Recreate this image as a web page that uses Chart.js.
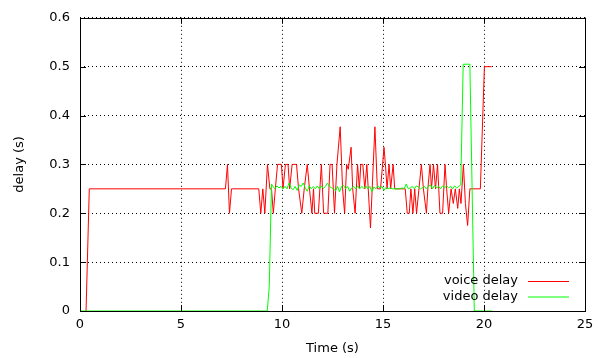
<!DOCTYPE html>
<html>
<head>
<meta charset="utf-8">
<script src="https://cdn.jsdelivr.net/npm/chart.js@4"></script>
<style>
  html, body { margin: 0; padding: 0; background: #fff; }
  #wrap { width: 607px; height: 358px; }
</style>
</head>
<body>
<div id="wrap"><canvas id="graf"></canvas></div>
<script>
// voice delay (red)
const voiceTime = [0.3, 0.46, 7.2, 7.3, 7.4, 7.5, 8.85, 8.95, 9.05, 9.15, 9.28, 9.4, 9.48, 9.57, 9.67, 9.78, 9.97,
  10.05, 10.17, 10.3, 10.38, 10.5, 10.72, 10.82, 10.98, 11.1, 11.25, 11.36, 11.48, 11.56, 11.62, 11.8, 11.95,
  12.06, 12.27, 12.38, 12.48, 12.6, 12.72, 12.88, 13.0, 13.1, 13.2, 13.28, 13.42, 13.5, 13.62, 13.74, 13.83,
  13.9, 14.0, 14.1, 14.2, 14.38, 14.6, 14.72, 14.88, 15.05, 15.12, 15.2, 15.3, 15.38, 15.5, 15.58, 16.1, 16.2,
  16.3, 16.38, 16.48, 16.57, 16.66, 16.78, 16.9, 17.0, 17.15, 17.22, 17.33, 17.4, 17.5, 17.6, 17.7, 17.82,
  17.95, 18.07, 18.15, 18.25, 18.37, 18.48, 18.58, 18.7, 18.78, 18.86, 18.98, 19.08, 19.19, 19.3, 19.82,
  20.02, 20.38];
const voiceDelay = [0, 0.25, 0.25, 0.3, 0.2, 0.25, 0.25, 0.2, 0.25, 0.2, 0.3, 0.25, 0.25, 0.2, 0.25, 0.3, 0.3,
  0.25, 0.3, 0.3, 0.25, 0.3, 0.3, 0.25, 0.2, 0.25, 0.3, 0.25, 0.2, 0.25, 0.2, 0.2, 0.3,
  0.2, 0.2, 0.3, 0.3, 0.2, 0.3, 0.377, 0.25, 0.2, 0.3, 0.29, 0.335, 0.25, 0.2, 0.3, 0.25,
  0.3, 0.3, 0.25, 0.3, 0.17, 0.377, 0.25, 0.25, 0.335, 0.3, 0.25, 0.3, 0.25, 0.3, 0.25, 0.25, 0.2,
  0.2, 0.25, 0.2, 0.25, 0.2, 0.25, 0.3, 0.25, 0.2, 0.25, 0.3, 0.25, 0.3, 0.25, 0.3, 0.2,
  0.2, 0.3, 0.25, 0.2, 0.25, 0.22, 0.25, 0.21, 0.25, 0.22, 0.3, 0.22, 0.175, 0.25, 0.25,
  0.5, 0.5];

// video delay (green)
const videoTime = [0, 9.27, 9.37, 9.48, 9.55, 9.65, 9.75, 9.85, 9.95, 10.05, 10.15, 10.25, 10.35, 10.45, 10.55,
  10.65, 10.75, 10.85, 10.95, 11.05, 11.15, 11.25, 11.35, 11.45, 11.55, 11.65, 11.75, 11.85, 11.95, 12.05,
  12.15, 12.25, 12.35, 12.45, 12.55, 12.65, 12.75, 12.85, 12.95, 13.05, 13.15, 13.25, 13.35, 13.45, 13.55,
  13.65, 13.75, 13.85, 13.95, 14.05, 14.15, 14.25, 14.35, 14.45, 14.55, 14.65, 14.75, 14.85, 14.95, 15.05,
  15.15, 15.25, 15.35, 15.45, 15.55, 15.65, 15.75, 15.85, 15.95, 16.05, 16.15, 16.25, 16.35, 16.45, 16.55,
  16.65, 16.75, 16.85, 16.95, 17.05, 17.15, 17.25, 17.35, 17.45, 17.55, 17.65, 17.75, 17.85, 17.95, 18.05,
  18.15, 18.25, 18.35, 18.45, 18.55, 18.65, 18.75, 18.85, 18.97, 19.3, 19.52, 20.4];
const videoDelay = [0, 0, 0.05, 0.26, 0.255, 0.25, 0.256, 0.252, 0.255, 0.25, 0.255, 0.25, 0.262, 0.252, 0.248,
  0.255, 0.247, 0.258, 0.255, 0.262, 0.252, 0.245, 0.256, 0.25, 0.255, 0.25, 0.256, 0.25, 0.256, 0.251,
  0.255, 0.262, 0.255, 0.252, 0.25, 0.246, 0.255, 0.244, 0.255, 0.257, 0.25, 0.255, 0.245, 0.252, 0.255,
  0.25, 0.256, 0.25, 0.255, 0.251, 0.256, 0.25, 0.255, 0.244, 0.254, 0.25, 0.256, 0.252, 0.255, 0.247,
  0.253, 0.25, 0.252, 0.25, 0.25, 0.25, 0.25, 0.25, 0.252, 0.25, 0.26, 0.25, 0.252, 0.255, 0.25,
  0.256, 0.254, 0.25, 0.252, 0.255, 0.25, 0.255, 0.258, 0.25, 0.257, 0.252, 0.255, 0.25, 0.256, 0.252,
  0.256, 0.252, 0.255, 0.25, 0.256, 0.252, 0.255, 0.258, 0.505, 0.505, 0, 0];

const xTicks = [0, 5, 10, 15, 20, 25];
const yTicks = [0, 0.1, 0.2, 0.3, 0.4, 0.5, 0.6];
const yTickLabels = ["0", "0.1", "0.2", "0.3", "0.4", "0.5", "0.6"];

const pontos = (xs, ys) => xs.map((x, i) => ({ x: x, y: ys[i] }));

const fonte = { family: "DejaVu Sans", size: 13 };

// moldura estilo gnuplot: borda, ticks internos e legenda dentro do gráfico
const moldura = {
  id: "moldura",
  afterDraw(chart) {
    const ctx = chart.ctx;
    const a = chart.chartArea;
    const sx = chart.scales.x, sy = chart.scales.y;
    ctx.save();
    ctx.strokeStyle = "#000";
    ctx.lineWidth = 1;
    ctx.setLineDash([]);
    ctx.beginPath();
    xTicks.forEach(v => {
      const px = Math.round(sx.getPixelForValue(v)) + 0.5;
      ctx.moveTo(px, a.bottom); ctx.lineTo(px, a.bottom - 6);
      ctx.moveTo(px, a.top); ctx.lineTo(px, a.top + 6);
    });
    yTicks.forEach(v => {
      const py = Math.round(sy.getPixelForValue(v)) + 0.5;
      ctx.moveTo(a.left, py); ctx.lineTo(a.left + 6, py);
      ctx.moveTo(a.right, py); ctx.lineTo(a.right - 6, py);
    });
    ctx.stroke();
    ctx.strokeRect(Math.round(a.left) + 0.5, Math.round(a.top) + 0.5,
      Math.round(a.right - a.left), Math.round(a.bottom - a.top));

    // legenda
    ctx.font = "13px 'DejaVu Sans'";
    ctx.textAlign = "right";
    ctx.textBaseline = "middle";
    chart.data.datasets.forEach((ds, i) => {
      const y = a.bottom - 30 + i * 15.5;
      ctx.fillStyle = "#000";
      ctx.fillText(ds.label, a.right - 67, y);
      ctx.strokeStyle = ds.borderColor;
      ctx.beginPath();
      ctx.moveTo(a.right - 57, y + 0.5);
      ctx.lineTo(a.right - 16, y + 0.5);
      ctx.stroke();
    });
    ctx.restore();
  }
};

new Chart(document.getElementById("graf"), {
  type: "scatter",
  data: {
    datasets: [
      {
        label: "voice delay",
        data: pontos(voiceTime, voiceDelay),
        showLine: true,
        borderColor: "#ff0000",
        borderWidth: 1,
        pointRadius: 0,
        tension: 0,
        order: 2
      },
      {
        label: "video delay",
        data: pontos(videoTime, videoDelay),
        showLine: true,
        borderColor: "#00ff00",
        borderWidth: 1,
        pointRadius: 0,
        tension: 0,
        order: 1
      }
    ]
  },
  options: {
    responsive: true,
    maintainAspectRatio: false,
    animation: false,
    layout: { padding: { left: 0, right: 22, top: 15, bottom: 0 } },
    plugins: {
      legend: { display: false },
      tooltip: { enabled: false }
    },
    scales: {
      x: {
        type: "linear",
        min: 0,
        max: 25,
        afterBuildTicks: s => { s.ticks = xTicks.map(v => ({ value: v })); },
        afterFit: s => { s.height = 47; },
        ticks: { color: "#000", font: fonte, padding: 6, maxRotation: 0 },
        grid: { color: "#000", lineWidth: 1, drawTicks: false },
        border: { display: false, dash: [1, 3] },
        title: { display: true, text: "Time (s)", color: "#000", font: fonte, padding: { top: 0, bottom: 2 } }
      },
      y: {
        type: "linear",
        min: 0,
        max: 0.6,
        afterBuildTicks: s => { s.ticks = yTicks.map(v => ({ value: v })); },
        afterFit: s => { s.width = 80; },
        ticks: {
          color: "#000",
          font: fonte,
          padding: 10,
          callback: (v) => yTickLabels[yTicks.findIndex(t => Math.abs(t - v) < 1e-9)]
        },
        grid: { color: "#000", lineWidth: 1, drawTicks: false },
        border: { display: false, dash: [1, 3] },
        title: { display: true, text: "delay (s)", color: "#000", font: fonte, padding: { top: 12, bottom: 0 } }
      }
    }
  },
  plugins: [moldura]
});
</script>
</body>
</html>
